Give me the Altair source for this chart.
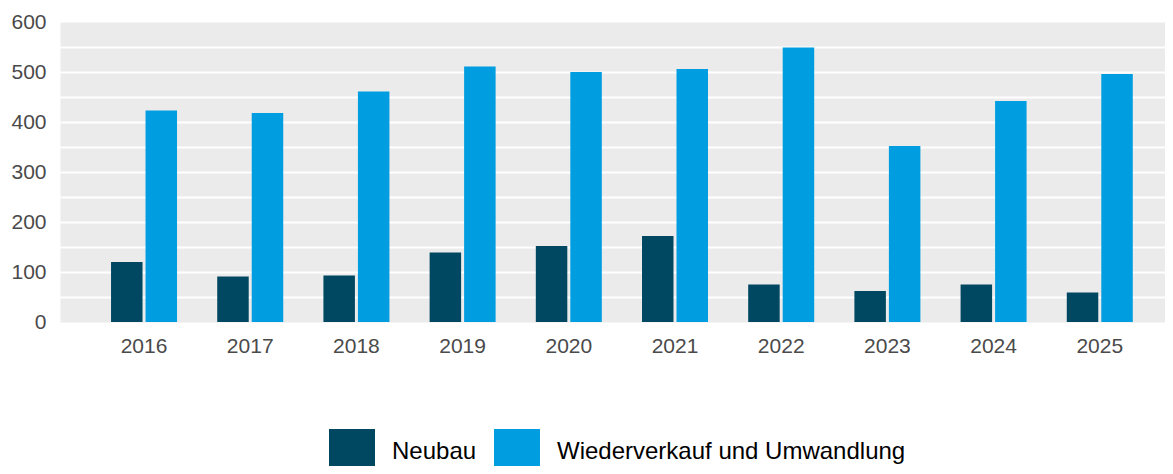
import altair as alt
import pandas as pd

years = ["2016", "2017", "2018", "2019", "2020", "2021", "2022", "2023", "2024", "2025"]
neubau = [120, 91, 93, 139, 152, 172, 75, 62, 75, 59]
wieder = [423, 418, 461, 511, 500, 506, 549, 352, 442, 496]
series = ["Neubau", "Wiederverkauf und Umwandlung"]
colors = ["#004862", "#009EE0"]
y_ticks = list(range(0, 601, 50))

rows = []
for i, yr in enumerate(years):
    rows.append({"Jahr": yr, "Kategorie": series[0], "Wert": neubau[i]})
    rows.append({"Jahr": yr, "Kategorie": series[1], "Wert": wieder[i]})
df = pd.DataFrame(rows)

font = "Liberation Sans"

chart = alt.Chart(df).mark_bar().encode(
    x=alt.X(
        "Jahr:N", sort=years, title=None,
        scale=alt.Scale(paddingInner=0.3785, paddingOuter=0.392, align=0.613),
        axis=alt.Axis(labelAngle=0, ticks=False, domain=False, grid=False,
                      labelFontSize=21, labelColor="#4a4a4a", labelPadding=13,
                      labelFont=font),
    ),
    xOffset=alt.XOffset("Kategorie:N", sort=series,
                        scale=alt.Scale(paddingInner=0.087, paddingOuter=0)),
    y=alt.Y(
        "Wert:Q", title=None,
        scale=alt.Scale(domain=[0, 600], nice=False),
        axis=alt.Axis(values=y_ticks,
                      labelExpr="datum.value % 100 == 0 ? datum.label : ''",
                      ticks=False, domain=False,
                      gridColor="white", gridWidth=2,
                      gridOpacity={"condition": {"test": "datum.value == 0 || datum.value == 600", "value": 0}, "value": 1},
                      labelFontSize=21, labelColor="#4a4a4a", labelPadding=14,
                      labelFont=font),
    ),
    color=alt.Color(
        "Kategorie:N", sort=series,
        scale=alt.Scale(domain=series, range=colors),
        legend=alt.Legend(title=None, orient="none", legendX=269, legendY=407,
                          direction="horizontal", symbolType="square",
                          symbolSize=2116, symbolStrokeWidth=0,
                          labelFontSize=24, labelColor="black", labelOffset=17,
                          columnPadding=17, labelFont=font, labelLimit=600),
    ),
).properties(
    width=1105, height=300,
    padding={"left": 52, "top": 14, "right": 0, "bottom": 144},
    autosize=alt.AutoSizeParams(type="none"),
).configure_view(fill="#EBEBEB", strokeOpacity=0)

chart.save("out.html", embed_options={"renderer": "svg", "actions": False})
